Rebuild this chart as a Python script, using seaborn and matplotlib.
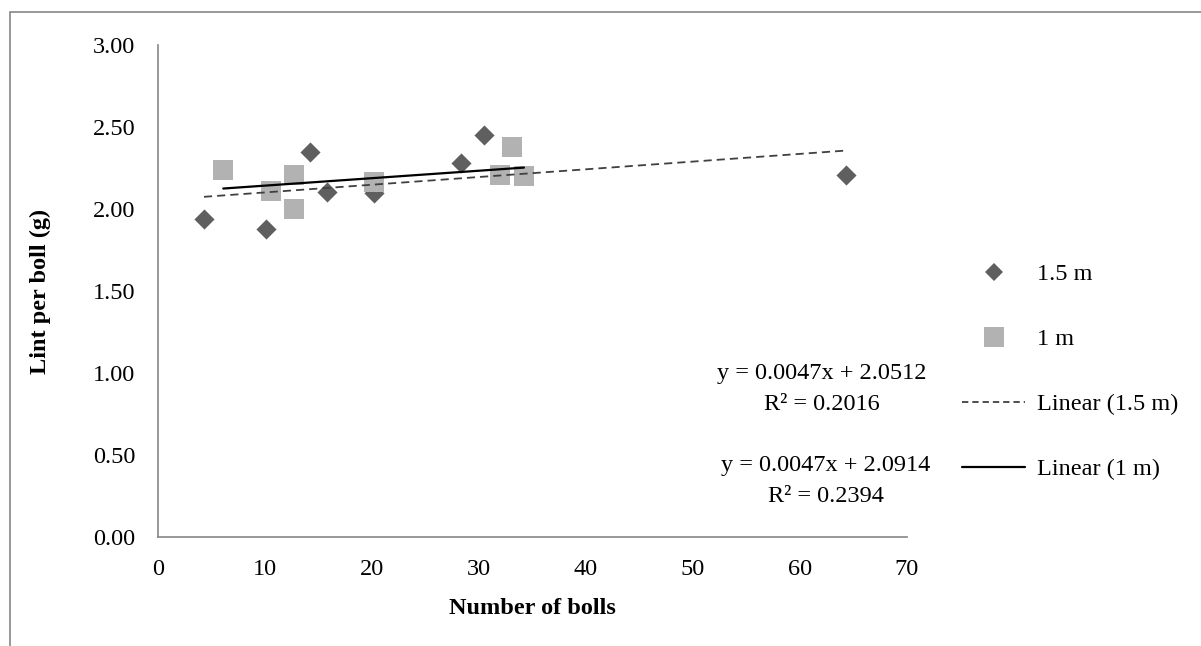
import numpy as np
import pandas as pd
import matplotlib
matplotlib.use("Agg")
import matplotlib.pyplot as plt
from matplotlib.lines import Line2D
from matplotlib.patches import Rectangle
from matplotlib.ticker import FormatStrFormatter
import seaborn as sns

sns.set_style("white")
plt.rcParams['font.family'] = ['Liberation Serif', 'DejaVu Serif']
plt.rcParams['text.color'] = 'black'
plt.rcParams['axes.labelcolor'] = 'black'

# values
bolls_15 = [4.3, 10.1, 14.2, 15.8, 20.2, 28.3, 30.5, 64.3]
lint_15 = [1.94, 1.88, 2.35, 2.105, 2.10, 2.28, 2.45, 2.21]
bolls_1 = [6.1, 10.6, 12.7, 12.7, 20.2, 32.0, 33.1, 34.2]
lint_1 = [2.24, 2.11, 2.21, 2.00, 2.165, 2.21, 2.376, 2.20]
series = ['1.5 m', '1 m']
eq_15 = ["y = 0.0047x + 2.0512", "R² = 0.2016"]
eq_1 = ["y = 0.0047x + 2.0914", "R² = 0.2394"]

df15 = pd.DataFrame({'bolls': bolls_15, 'lint': lint_15, 'spacing': series[0]})
df1 = pd.DataFrame({'bolls': bolls_1, 'lint': lint_1, 'spacing': series[1]})

W, H = 1201, 646
def px(x, y):
    return x / W, 1 - y / H

dark = '#5f5f5f'
light = '#b2b2b2'
axis_grey = '#868686'
fs = 17.5

fig = plt.figure(figsize=(W / 100, H / 100), dpi=100)
# outer chart frame (only top and left visible in the crop)
fig.add_artist(Rectangle(px(10, 700), 2, (700 - 12) / H, transform=fig.transFigure,
                         fill=False, edgecolor=axis_grey, lw=1.2))

ax = fig.add_axes([158 / W, 1 - 537 / H, (907 - 158) / W, (537 - 45) / H])

sns.scatterplot(data=df15, x='bolls', y='lint', marker='D', color=dark, s=105,
                linewidth=0, ax=ax, zorder=3)
sns.scatterplot(data=df1, x='bolls', y='lint', marker='s', color=light, s=205,
                linewidth=0, ax=ax, zorder=4)
sns.regplot(data=df15, x='bolls', y='lint', scatter=False, ci=None, truncate=True,
            color='#404040', line_kws=dict(ls=(0, (4.5, 2.8)), lw=1.3, zorder=5), ax=ax)
sns.regplot(data=df1, x='bolls', y='lint', scatter=False, ci=None, truncate=True,
            color='black', line_kws=dict(ls='-', lw=1.6, zorder=6), ax=ax)

ax.set_xlim(0, 70)
ax.set_ylim(0, 3)
ax.set_xticks(np.arange(0, 71, 10))
ax.set_yticks(np.arange(0, 3.01, 0.5))
ax.yaxis.set_major_formatter(FormatStrFormatter('%.2f'))
for s in ['top', 'right']:
    ax.spines[s].set_visible(False)
for s in ['left', 'bottom']:
    ax.spines[s].set_color(axis_grey)
    ax.spines[s].set_linewidth(1.2)
ax.tick_params(axis='both', direction='out', length=5.5, width=1.2, color=axis_grey,
               labelsize=fs, labelcolor='black')
ax.tick_params(axis='y', pad=11)
ax.tick_params(axis='x', pad=10)
ax.set_xlabel('')
ax.set_ylabel('')
fig.text(*px(532, 608), 'Number of bolls', fontsize=fs, fontweight='bold',
         ha='center', va='center')
fig.text(*px(40, 291), 'Lint per boll (g)', fontsize=fs, fontweight='bold',
         ha='center', va='center', rotation=90)

# trendline labels
fig.text(*px(822, 374), eq_15[0], fontsize=fs, ha='center', va='center')
fig.text(*px(822, 405), eq_15[1], fontsize=fs, ha='center', va='center')
fig.text(*px(826, 466), eq_1[0], fontsize=fs, ha='center', va='center')
fig.text(*px(826, 496), eq_1[1], fontsize=fs, ha='center', va='center')

handles = [
    Line2D([], [], ls='none', marker='D', color=dark, markersize=9.5, mew=0),
    Line2D([], [], ls='none', marker='s', color=light, markersize=14, mew=0),
    Line2D([], [], ls=(0, (3.5, 2.2)), color='#404040', lw=1.3),
    Line2D([], [], ls='-', color='black', lw=1.6),
]
labels = ['1.5 m', '1 m', 'Linear (1.5 m)', 'Linear (1 m)']
fig.legend(handles, labels, loc='upper left', bbox_to_anchor=px(962, 263),
           frameon=False, fontsize=fs, handlelength=2.6, handletextpad=0.5,
           labelspacing=1.77, borderpad=0, borderaxespad=0)

fig.savefig('out.png', dpi=100)
